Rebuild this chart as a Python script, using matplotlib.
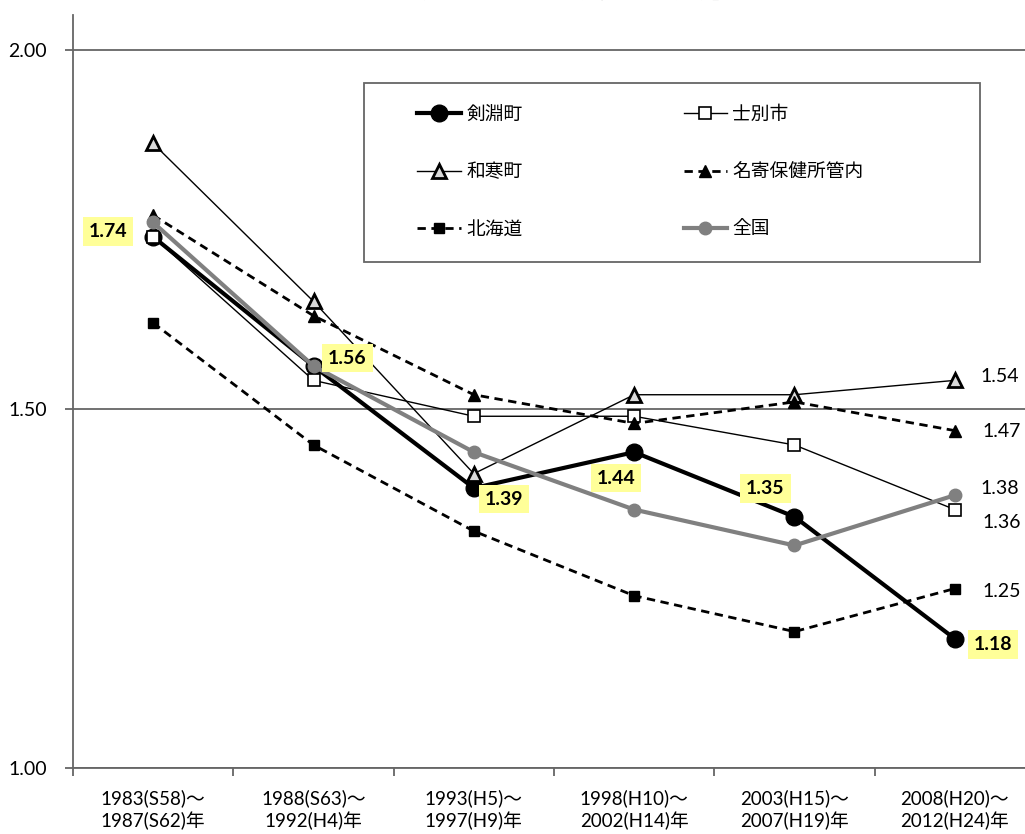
import numpy as np
import matplotlib.pyplot as plt

plt.rcParams['font.family'] = ['Lato', 'Noto Sans CJK JP', 'DejaVu Sans']

periods = ['1983(S58)～\n1987(S62)年', '1988(S63)～\n1992(H4)年', '1993(H5)～\n1997(H9)年',
           '1998(H10)～\n2002(H14)年', '2003(H15)～\n2007(H19)年', '2008(H20)～\n2012(H24)年']

kenbuchi = [1.74, 1.56, 1.39, 1.44, 1.35, 1.18]
shibetsu = [1.74, 1.54, 1.49, 1.49, 1.45, 1.36]
wassamu = [1.87, 1.65, 1.41, 1.52, 1.52, 1.54]
nayoro = [1.77, 1.63, 1.52, 1.48, 1.51, 1.47]
hokkaido = [1.62, 1.45, 1.33, 1.24, 1.19, 1.25]
zenkoku = [1.76, 1.56, 1.44, 1.36, 1.31, 1.38]

x = np.arange(len(periods)) + 0.5

fig = plt.figure(figsize=(10.25, 8.34), dpi=100)
ax = fig.add_axes([73/1025, 66/834, (1035-73)/1025, (768-15)/834])

gray = '#666666'
l1, = ax.plot(x, kenbuchi, '-o', color='black', lw=3, ms=12, label='剣淵町', zorder=3)
l2, = ax.plot(x, shibetsu, '-s', color='black', lw=1, ms=8, mfc='white', mec='black',
              mew=1.2, label='士別市', zorder=4)
l3, = ax.plot(x, wassamu, '-^', color='black', lw=1, ms=10, mfc='#d9d9d9', mec='black',
              mew=2, label='和寒町', zorder=5)
l4, = ax.plot(x, nayoro, '--^', color='black', lw=2, ms=8, dashes=(3, 2), label='名寄保健所管内', zorder=6)
l5, = ax.plot(x, hokkaido, '--s', color='black', lw=2, ms=7, dashes=(3, 2), label='北海道', zorder=7)
l6, = ax.plot(x, zenkoku, '-o', color='#808080', lw=3, ms=9, label='全国', zorder=8)

ax.set_xlim(0, 6)
ax.set_ylim(1.0, 2.049)
ax.set_yticks([1.0, 1.5, 2.0])
ax.set_yticklabels(['%.2f' % v for v in [1.0, 1.5, 2.0]])
ax.set_xticks(np.arange(0, 6))
ax.set_xticklabels([])
ax.set_xticks(x, minor=True)
ax.set_xticklabels(periods, minor=True, linespacing=1.3)
ax.tick_params(axis='x', which='minor', length=0, pad=15, labelsize=13.5)
ax.tick_params(axis='x', which='major', length=6, color=gray, width=1.3, direction='out')
ax.tick_params(axis='y', length=6, color=gray, width=1.3, pad=13, labelsize=14)
ax.yaxis.grid(True, color=gray, lw=1.3)
ax.set_axisbelow(True)
for s in ['top', 'right']:
    ax.spines[s].set_visible(False)
for s in ['left', 'bottom']:
    ax.spines[s].set_color(gray)
    ax.spines[s].set_linewidth(1.3)

# highlighted labels for 剣淵町
offsets = [(-45, 5), (34, 8), (30, -11), (-18, -26), (-29, 28), (38, -6)]
for xi, v, off in zip(x, kenbuchi, offsets):
    ax.annotate('%.2f' % v, (xi, v), xytext=off, textcoords='offset pixels',
                ha='center', va='center', fontsize=14, fontweight='bold',
                bbox=dict(boxstyle='square,pad=0.3', fc='#ffff99', ec='none'), zorder=10)

# last value labels
ends = [(wassamu, (45, 4)), (nayoro, (47, -1)), (zenkoku, (45, 7)),
        (shibetsu, (47, -13)), (hokkaido, (47, -3))]
for series, off in ends:
    ax.annotate('%.2f' % series[-1], (x[-1], series[-1]), xytext=off, textcoords='offset pixels',
                ha='center', va='center', fontsize=14, zorder=10)

# legend
fig.patches.append(plt.Rectangle((364/1025, 1-262/834), 616/1025, 179/834, transform=fig.transFigure,
                                 fc='white', ec=gray, lw=1.3, zorder=9))
leg = fig.legend([l1, l3, l5, l2, l4, l6], ['剣淵町', '和寒町', '北海道', '士別市', '名寄保健所管内', '全国'],
                 ncol=2, loc='upper left', bbox_to_anchor=(408/1025, 1-96/834), frameon=False,
                 fontsize=13.5, handlelength=2.3, handletextpad=0.3, columnspacing=8.6,
                 labelspacing=2.15, borderpad=0)
leg.set_zorder(11)

fig.text(544/1025, 1-1/834, '【合計特殊出生率（ベイズ推定値）の推移】', ha='center', va='bottom',
         fontsize=13.5, fontweight='bold')

fig.savefig('out.png', dpi=100)
